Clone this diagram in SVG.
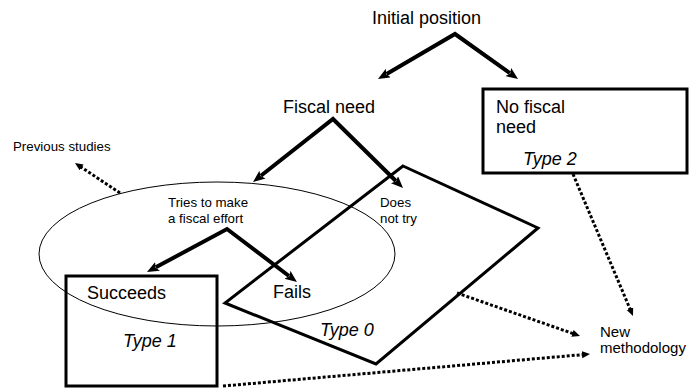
<svg xmlns="http://www.w3.org/2000/svg" width="690" height="388" viewBox="0 0 690 388">
<style>
text{font-family:"Liberation Sans",Arial,sans-serif;fill:#000}
.big{font-size:18px}
.sm{font-size:13.3px}
.md{font-size:15px}
.it{font-style:italic}
.thick{fill:none;stroke:#000;stroke-width:4;stroke-linejoin:miter}
.shape{fill:none;stroke:#000;stroke-width:3}
.dot{fill:none;stroke:#000;stroke-width:3;stroke-dasharray:3 2}
</style>
<defs>
<marker id="ah" markerUnits="userSpaceOnUse" markerWidth="14" markerHeight="12" refX="2" refY="5" orient="auto-start-reverse">
<path d="M0,0 L12,5 L0,10 L2.5,5 z" fill="#000"/>
</marker>
<marker id="dh" markerUnits="userSpaceOnUse" markerWidth="10" markerHeight="8" refX="1" refY="3.5" orient="auto">
<path d="M0,0 L8,3.5 L0,7 z" fill="#000"/>
</marker>
</defs>

<g id="ellipse-previous">
<ellipse cx="217" cy="254" rx="178" ry="72" fill="none" stroke="#000" stroke-width="1"/>
</g>

<g id="type0">
<polygon class="shape" points="403,166 538,228 376,364 225,303"/>
<text class="big it" x="320" y="336">Type 0</text>
</g>

<g id="type1">
<rect class="shape" x="66" y="276" width="151" height="110"/>
<text class="big" x="87" y="299">Succeeds</text>
<text class="big it" x="123" y="347">Type 1</text>
</g>

<g id="type2">
<rect class="shape" x="483" y="89" width="204" height="84"/>
<text class="big" x="496" y="113">No fiscal</text>
<text class="big" x="496" y="133">need</text>
<text class="big it" x="523" y="165">Type 2</text>
</g>

<g id="initial"><text class="big" x="372" y="24">Initial position</text></g>
<g id="fiscal-need"><text class="big" x="283" y="113">Fiscal need</text></g>
<g id="tries"><text class="sm" x="168" y="207">Tries to make</text><text class="sm" x="168" y="223">a fiscal effort</text></g>
<g id="does-not-try"><text class="sm" x="380" y="207">Does</text><text class="sm" x="380" y="223">not try</text></g>
<g id="fails"><text class="big" x="273" y="298">Fails</text></g>
<g id="previous"><text class="sm" x="13" y="151">Previous studies</text></g>
<g id="new-methodology"><text class="md" x="600" y="337">New</text><text class="md" x="600" y="353">methodology</text></g>

<g id="connectors">
<polyline class="thick" points="386.6,74 455,34 509.9,73.2" marker-start="url(#ah)" marker-end="url(#ah)"/>
<polyline class="thick" points="260.9,175.8 333,119 395.9,181" marker-start="url(#ah)" marker-end="url(#ah)"/>
<polyline class="thick" points="155.8,267.3 227,229 289,276" marker-start="url(#ah)" marker-end="url(#ah)"/>
<line class="dot" x1="573" y1="174" x2="630.3" y2="309.6" marker-end="url(#dh)"/>
<line class="dot" x1="457" y1="293" x2="573.4" y2="333.7" marker-end="url(#dh)"/>
<line class="dot" x1="223" y1="386" x2="583" y2="354.6" marker-end="url(#dh)"/>
<line class="dot" x1="120" y1="193" x2="80.8" y2="166.9" marker-end="url(#dh)"/>
</g>
</svg>
